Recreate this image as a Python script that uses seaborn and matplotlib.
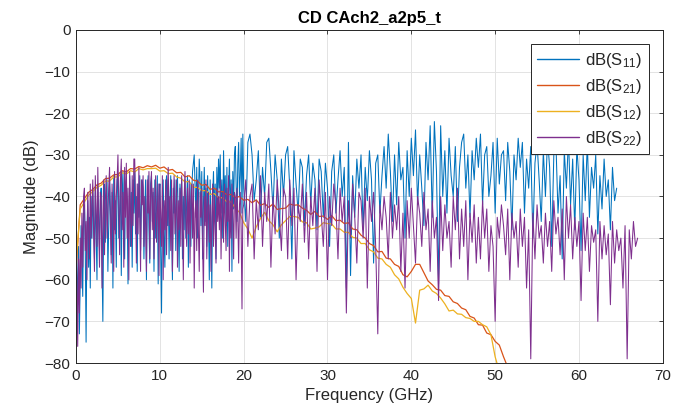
import numpy as np
import pandas as pd
import matplotlib
matplotlib.use("Agg")
import matplotlib.pyplot as plt
import seaborn as sns

# === data (dB), frequency grids in GHz ===
F_LOW_STEP = 0.1     # dense part of S11 / S22, 0 .. 20 GHz
F_HIGH_START = 20.0
F_HIGH_STEP = 0.25   # S11 / S22 from 20 GHz up
F_SLOW_STEP = 0.5    # S21 / S12

s11_low_db = [
    -48, -58, -66, -52, -73, -60, -47, -55, -64, -44,
    -42, -52, -75, -48, -41, -57, -45, -62, -40, -50,
    -39, -46, -55, -38, -49, -60, -37, -44, -53, -41,
    -38, -56, -70, -45, -37, -51, -42, -36, -58, -47,
    -36, -43, -54, -39, -62, -35, -48, -41, -57, -36,
    -35, -50, -44, -36, -59, -40, -34, -47, -55, -38,
    -36, -42, -61, -46, -35, -52, -39, -57, -36, -44,
    -34, -49, -40, -58, -37, -45, -35, -53, -42, -36,
    -38, -55, -44, -36, -60, -41, -35, -48, -56, -37,
    -35, -46, -39, -58, -36, -50, -43, -35, -61, -40,
    -37, -52, -68, -44, -36, -49, -57, -38, -35, -47,
    -36, -55, -41, -35, -48, -60, -38, -44, -36, -53,
    -39, -35, -47, -58, -37, -43, -36, -55, -40, -48,
    -36, -50, -41, -35, -57, -44, -37, -52, -39, -34,
    -32, -30, -38, -45, -33, -50, -40, -31, -36, -47,
    -34, -55, -42, -33, -46, -38, -52, -35, -44, -60,
    -36, -48, -62, -40, -34, -45, -37, -55, -33, -42,
    -31, -38, -30, -44, -36, -50, -29, -41, -35, -47,
    -33, -52, -39, -31, -45, -36, -58, -34, -43, -30,
    -28, -37, -46, -32, -27, -40, -35, -26, -44, -25,
]

s11_high_db = [
    -38, -46, -27, -25,  -30, -41, -36, -29,  -45, -33, -40, -27,  -26, -34, -43, -30,
    -36, -50, -31, -40,  -30, -28, -38, -55,  -29, -37, -44, -31,  -33, -47, -35, -30,
    -42, -32, -36, -48,  -31, -34, -45, -32,  -38, -52, -34, -30,  -44, -36, -29, -40,
    -33, -62, -27, -59,  -35, -45, -31, -38,  -30, -48, -33, -41,  -29, -36, -56, -32,
    -30, -44, -35, -28,  -38, -25, -34, -46,  -30, -42, -27, -36,  -33, -50, -29, -40,
    -26, -35, -24, -42,  -30, -38, -47, -27,  -36, -23, -45, -22,  -34, -61, -23, -40,
    -29, -44, -26, -35,  -40, -28, -46, -33,  -27, -25, -38, -30,  -45, -29, -36, -26,
    -33, -25, -42, -30,  -28, -40, -35, -27,  -44, -26, -37, -30,  -29, -41, -27, -34,
    -48, -30, -36, -26,  -33, -27, -44, -31,  -38, -28, -50, -32,  -27, -36, -46, -29,
    -40, -26, -33, -52,  -30, -27, -44, -35,  -55, -29, -38, -26,  -42, -31, -48, -28,
    -36, -53, -30, -41,  -27, -45, -33, -38,  -30, -49, -35, -43,  -31, -40, -36, -48,
    -33, -41, -38,
]

s22_low_db = [
    -45, -60, -76, -55, -68, -50, -62, -44, -57, -40,
    -38, -53, -46, -60, -39, -48, -55, -37, -50, -42,
    -36, -49, -58, -35, -44, -52, -33, -47, -57, -39,
    -40, -62, -45, -36, -54, -41, -35, -50, -44, -38,
    -33, -47, -56, -37, -43, -58, -34, -49, -40, -36,
    -30, -42, -54, -36, -31, -48, -39, -57, -33, -45,
    -32, -50, -38, -60, -34, -44, -52, -35, -47, -31,
    -31, -41, -56, -37, -49, -33, -45, -58, -36, -42,
    -35, -52, -40, -47, -58, -36, -44, -34, -55, -39,
    -34, -48, -38, -55, -42, -35, -51, -44, -37, -59,
    -37, -45, -52, -35, -60, -41, -48, -36, -54, -39,
    -33, -47, -40, -53, -36, -58, -42, -35, -49, -44,
    -36, -57, -41, -48, -38, -52, -35, -46, -60, -40,
    -34, -45, -52, -38, -49, -36, -56, -41, -37, -50,
    -37, -62, -44, -41, -53, -36, -48, -58, -39, -45,
    -38, -52, -63, -40, -47, -36, -55, -43, -39, -51,
    -42, -58, -45, -37, -52, -40, -48, -56, -38, -46,
    -40, -48, -36, -55, -42, -39, -51, -37, -46, -53,
    -38, -46, -35, -58, -41, -50, -37, -44, -55, -39,
    -40, -50, -38, -45, -56, -42, -39, -48, -67, -43,
]

s22_high_db = [
    -42, -36, -52, -40,  -37, -55, -41, -48,  -35, -52, -39, -46,  -37, -57, -40, -49,
    -36, -44, -53, -38,  -40, -55, -36, -47,  -38, -60, -42, -46,  -37, -51, -39, -55,
    -40, -47, -38, -58,  -36, -44, -52, -39,  -60, -40, -47, -37,  -42, -55, -38, -46,
    -40, -68, -41, -50,  -37, -45, -56, -39,  -41, -50, -38, -62,  -40, -46, -39, -52,
    -73, -42, -48, -40,  -45, -55, -39, -50,  -42, -48, -40, -58,  -44, -62, -41, -50,
    -38, -47, -56, -40,  -44, -52, -39, -48,  -43, -58, -41, -50,  -45, -65, -40, -53,
    -42, -50, -46, -57,  -40, -48, -38, -55,  -43, -52, -41, -60,  -44, -51, -42, -56,
    -45, -55, -41, -50,  -43, -58, -47, -52,  -70, -45, -50, -42,  -47, -54, -43, -60,
    -44, -50, -46, -57,  -43, -52, -45, -62,  -48, -79, -44, -55,  -42, -50, -47, -56,
    -44, -52, -46, -58,  -41, -49, -45, -54,  -43, -60, -40, -50,  -42, -55, -45, -52,
    -46, -65, -44, -53,  -45, -58, -47, -51,  -48, -70, -46, -55,  -47, -54, -49, -66,
    -46, -56, -48, -53,  -50, -62, -47, -79,  -48, -55, -46, -52,  -50,
]

s21_db = [
    -58, -42, -40.5, -39, -38.3, -37.2, -36.8, -35.7, -35.6, -34.8, -34.7, -33.8,
    -34.1, -33.3, -33.4, -32.8, -33.1, -32.6, -32.9, -32.5, -33.2, -32.9, -33.7, -33.5,
    -34.3, -34.2, -35.3, -35, -36.1, -36.3, -37.3, -37.1, -38.3, -38, -38.9, -38.8,
    -39.6, -39.5, -40.3, -40, -40.9, -40.7, -41.5, -40.8, -42.1, -41.7, -42.6, -41.8,
    -43.1, -42.9, -42.8, -41.8, -42.1, -42, -42.8, -43.3, -44.3, -43.6, -44.8, -44.7,
    -45.5, -44.6, -45.8, -45.7, -46.5, -46.3, -47.8, -48, -49.3, -50, -51.3, -51.8,
    -53.3, -53.2, -54.8, -55, -56.3, -56.8, -58.8, -59.3, -58, -56.3, -56.3, -58.3,
    -60.3, -61.2, -62.3, -62.5, -63.8, -64, -65.3, -65.7, -66.8, -67.2, -68.8, -69.2,
    -70.8, -70.9, -72.8, -73.2, -74.8, -75.7, -78.5, -81, -84,
]

s12_db = [
    -56, -43, -41.3, -39.7, -38.8, -37.8, -37.3, -36.3, -36.3, -35.3, -35.3, -34.3,
    -34.6, -33.8, -34.1, -33.3, -33.6, -33.3, -33.3, -33.2, -33.9, -33.8, -34.5, -34.4,
    -35.3, -35.6, -36.5, -36.4, -37.8, -37.8, -38.6, -38.6, -39.5, -39.3, -40.3, -40.3,
    -41.3, -41.3, -42.8, -43.8, -46.3, -47.8, -50, -47.3, -45.3, -43.8, -45.8, -46.8,
    -48.5, -46.8, -45.8, -44.8, -44.8, -45, -46.1, -46.3, -47.8, -47.6, -47.3, -46.3,
    -46.5, -46.6, -47.8, -47.8, -48.6, -48.6, -49.8, -50, -51.3, -51.3, -52.8, -53.3,
    -54.8, -55, -56.3, -57, -58.8, -59.8, -61.8, -63.3, -64.5, -70.4, -62.5, -62.2,
    -61.3, -62.7, -63.3, -64.4, -65.8, -67.5, -67.3, -68.2, -68.3, -69.1, -69.3, -70,
    -70, -70.8, -71.3, -73.2, -78.5, -82, -85,
]

labels = ["dB(S$_{11}$)", "dB(S$_{21}$)", "dB(S$_{12}$)", "dB(S$_{22}$)"]
colors = ["#0072BD", "#D95319", "#EDB120", "#7E2F8E"]


def split_grid(low_vals, high_vals):
    f_low = np.arange(len(low_vals)) * F_LOW_STEP
    f_high = F_HIGH_START + np.arange(len(high_vals)) * F_HIGH_STEP
    return np.concatenate([f_low, f_high]), np.array(low_vals + high_vals, dtype=float)


def slow_grid(vals):
    return np.arange(len(vals)) * F_SLOW_STEP, np.array(vals, dtype=float)


# === style ===
sns.set_theme(style="whitegrid")
plt.rcParams['font.family'] = ['Liberation Sans', 'DejaVu Sans']
plt.rcParams['mathtext.default'] = 'regular'

fig = plt.figure(figsize=(6.77, 4.2), dpi=100)
ax = fig.add_axes([0.1123, 0.1357, 0.8667, 0.7929])

series = [
    (split_grid(s11_low_db, s11_high_db), 0.75),
    (slow_grid(s21_db), 0.9),
    (slow_grid(s12_db), 0.9),
    (split_grid(s22_low_db, s22_high_db), 0.75),
]
for ((f, db), lw), lab, col in zip(series, labels, colors):
    df = pd.DataFrame({"f": f, "db": db})
    sns.lineplot(data=df, x="f", y="db", ax=ax, color=col, linewidth=lw,
                 label=lab, sort=False, estimator=None)

ax.set_xlim(0, 70)
ax.set_ylim(-80, 0)
ax.set_xticks(np.arange(0, 71, 10))
ax.set_yticks(np.arange(-80, 1, 10))
ax.set_facecolor("white")
ax.grid(True, color="#E3E3E3", linewidth=0.7)
for sp in ax.spines.values():
    sp.set_color("#262626")
    sp.set_linewidth(0.7)
ax.tick_params(direction="in", top=True, right=True, length=3, width=0.6,
               color="#262626", labelsize=11, labelcolor="#262626", pad=4)

ax.set_xlabel("Frequency (GHz)", fontsize=12, color="#262626")
ax.set_ylabel("Magnitude (dB)", fontsize=12, color="#262626")
ax.set_title("CD CAch2_a2p5_t", fontsize=12, fontweight="bold", color="black", pad=5)

leg = ax.legend(loc="upper right", bbox_to_anchor=(0.976, 0.958), borderaxespad=0,
                fontsize=12, frameon=True, fancybox=False, framealpha=1,
                edgecolor="#262626", handlelength=2.5, handletextpad=0.35,
                labelspacing=0.42, borderpad=0.4)
leg.get_frame().set_linewidth(0.7)
for line in leg.get_lines():
    line.set_linewidth(1.0)

fig.savefig("out.png", dpi=100)
